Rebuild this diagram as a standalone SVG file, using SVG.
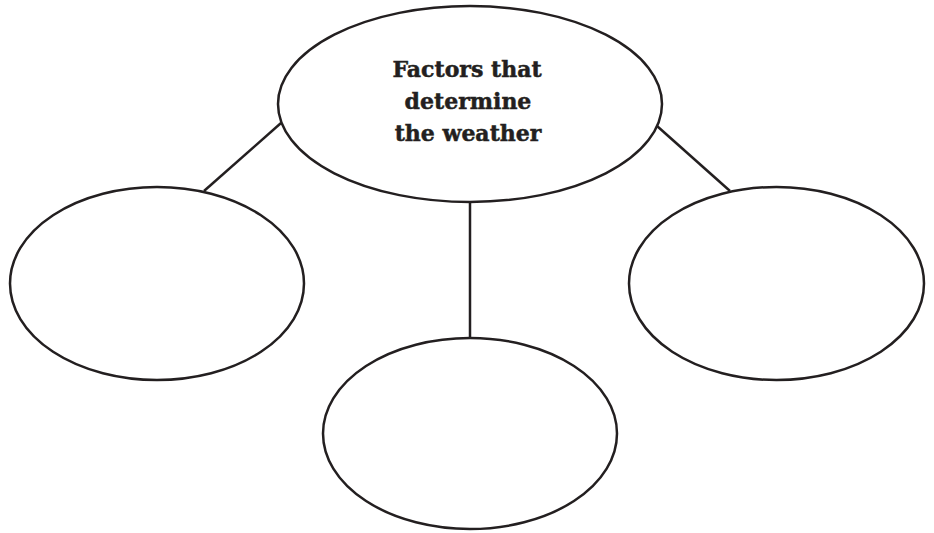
<svg xmlns="http://www.w3.org/2000/svg" width="934" height="533" viewBox="0 0 934 533">
  <style>
    .bubble { fill: #ffffff; stroke: #231f20; stroke-width: 2.5; }
    .link { stroke: #231f20; stroke-width: 2.5; fill: none; }
    .title { font-family: "DejaVu Serif", "Liberation Serif", serif; font-weight: bold; font-size: 22px; fill: #231f20; stroke: #231f20; stroke-width: 0.5; text-anchor: middle; }
  </style>
  <rect width="934" height="533" fill="#ffffff"/>
  <g id="connectors">
    <line class="link" x1="281" y1="123" x2="204" y2="191"/>
    <line class="link" x1="657" y1="126" x2="730" y2="191"/>
    <line class="link" x1="470" y1="202" x2="470" y2="338"/>
  </g>
  <g id="node-center">
    <ellipse class="bubble" cx="470" cy="104" rx="192" ry="98"/>
    <text class="title" x="467" y="77">Factors that</text>
    <text class="title" x="468" y="109">determine</text>
    <text class="title" x="468" y="141">the weather</text>
  </g>
  <g id="node-left">
    <ellipse class="bubble" cx="157" cy="283.5" rx="147" ry="96.5"/>
  </g>
  <g id="node-right">
    <ellipse class="bubble" cx="776.5" cy="283.5" rx="147.5" ry="96.5"/>
  </g>
  <g id="node-bottom">
    <ellipse class="bubble" cx="470" cy="433.5" rx="147" ry="95.5"/>
  </g>
</svg>
